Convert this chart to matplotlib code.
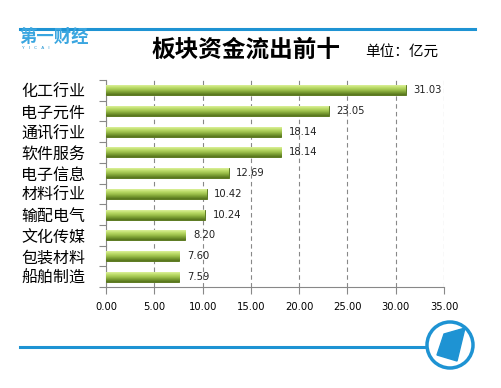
import numpy as np
import matplotlib
matplotlib.use("Agg")
import matplotlib.pyplot as plt
from matplotlib.patches import Circle, Polygon
from matplotlib.colors import LinearSegmentedColormap

plt.rcParams['font.family'] = ['Noto Sans CJK SC', 'DejaVu Sans']

categories = ["化工行业", "电子元件", "通讯行业", "软件服务", "电子信息",
              "材料行业", "输配电气", "文化传媒", "包装材料", "船舶制造"]
values = [31.03, 23.05, 18.14, 18.14, 12.69, 10.42, 10.24, 8.20, 7.60, 7.59]
value_labels = ["31.03", "23.05", "18.14", "18.14", "12.69",
                "10.42", "10.24", "8.20", "7.60", "7.59"]
xticks = [0, 5, 10, 15, 20, 25, 30, 35]
xtick_labels = ["0.00", "5.00", "10.00", "15.00", "20.00", "25.00", "30.00", "35.00"]
title = "板块资金流出前十"
unit = "单位：亿元"

BLUE = "#1e93d3"

fig = plt.figure(figsize=(5.02, 3.88), dpi=100)
ax = fig.add_axes([106/502, 1-287/388, (444-106)/502, (287-80)/388])

y = np.arange(len(categories))
bars = ax.barh(y, values, height=0.48, color="#9bbb59", edgecolor="#5d7a22",
               linewidth=0.7, zorder=3)
cmap = LinearSegmentedColormap.from_list(
    "g", ["#dcf09a", "#bcdc68", "#9dc04c", "#779a30", "#55721c"])
grad = np.linspace(0, 1, 64).reshape(-1, 1)
for b in bars:
    x0, y0 = b.get_x(), b.get_y()
    w, h = b.get_width(), b.get_height()
    im = ax.imshow(grad, cmap=cmap, aspect="auto", extent=[x0, x0 + w, y0 + h, y0],
                   zorder=3.5, interpolation="bilinear")
    im.set_clip_path(b)
for yi, v, lab in zip(y, values, value_labels):
    ax.text(v + 0.8, yi, lab, va="center", ha="left", fontsize=7.2,
            family="DejaVu Sans", color="#222222", zorder=5)

ax.set_xlim(0, 35)
ax.set_ylim(len(categories) - 0.5, -0.5)
ax.set_xticks(xticks)
ax.set_xticklabels(xtick_labels, fontsize=7.2, family="DejaVu Sans")
ax.set_yticks(np.arange(len(categories) + 1) - 0.5, minor=False)
ax.set_yticklabels([""] * (len(categories) + 1))
ax.set_yticks(y, minor=True)
ax.set_yticklabels(categories, minor=True, fontsize=11.5)
ax.tick_params(axis="y", which="minor", length=0, pad=15)
ax.tick_params(axis="y", which="major", length=5, color="#888888", direction="out")
ax.tick_params(axis="x", length=5, color="#888888", direction="out", pad=6)
ax.xaxis.grid(True, linestyle=(0, (4, 3)), color="#888888", linewidth=0.8, zorder=0)
ax.set_axisbelow(True)
for s in ["top", "right"]:
    ax.spines[s].set_visible(False)
for s in ["left", "bottom"]:
    ax.spines[s].set_color("#888888")

# header
fig.add_artist(plt.Line2D([20/502, 475/502], [1-29/388, 1-29/388], color=BLUE, lw=2.2))
fig.text(19/502, 1-37/388, "第一财经", color="#3aa6e0", fontsize=12.5, fontweight="bold",
         va="center", ha="left")
fig.text(22/502, 1-48/388, "Y   I   C   A   I", color=BLUE, fontsize=3.2,
         va="center", ha="left", family="DejaVu Sans")
fig.text(246/502, 1-50/388, title, fontsize=17, fontweight="bold", ha="center", va="center")
fig.text(365/502, 1-52/388, unit, fontsize=10.5, ha="left", va="center")

# footer
fig.add_artist(plt.Line2D([20/502, 425/502], [1-347/388, 1-347/388], color=BLUE, lw=2.2))
ax2 = fig.add_axes([420/502, 1-375/388, 60/502, 60/388])
ax2.set_xlim(-30, 30); ax2.set_ylim(-30, 30); ax2.set_aspect("equal"); ax2.axis("off")
ax2.add_patch(Circle((0, 0), 23, fill=False, ec=BLUE, lw=2.5))
ax2.add_patch(Polygon([[-6, 11], [15, 17], [7, -16], [-13, -10]], closed=True, color=BLUE))

fig.savefig("out.png", dpi=100, facecolor="white")
